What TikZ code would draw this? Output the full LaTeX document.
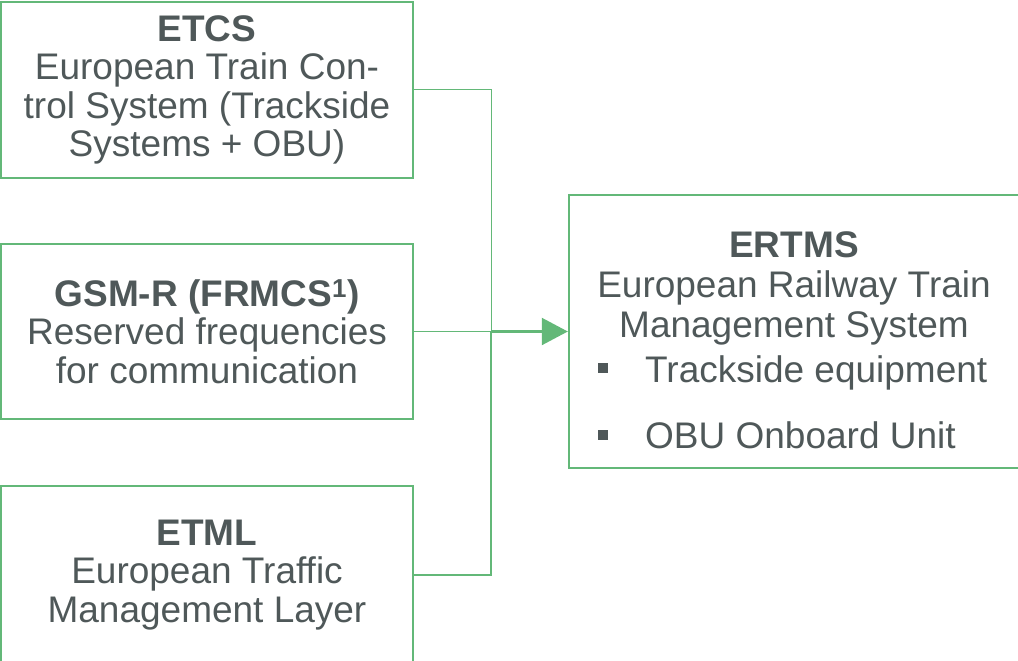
\documentclass[tikz,border=0pt]{standalone}
\usepackage{fontspec}
\setmainfont{Liberation Sans}
\usetikzlibrary{arrows.meta}
\definecolor{txt}{HTML}{4F5859}
\definecolor{grn}{HTML}{63B878}
\tikzset{
  box/.style={draw=grn, line width=2.4pt, inner sep=0pt, text=txt, align=center,
    font=\fontsize{37}{38.5}\selectfont, minimum width=412pt},
  lbl/.style={text=txt, inner sep=0pt, font=\fontsize{37}{38.5}\selectfont},
  conn/.style={draw=grn, line width=1.2pt},
  bul/.style={fill=txt, inner sep=0pt, minimum size=10.5pt}
}
\begin{document}
\begin{tikzpicture}[x=1pt,y=-1pt]
\useasboundingbox (0,0) rectangle (1018,661);
\node[box, minimum height=176pt] (etcs) at (207,90)
  {\textbf{ETCS}\\European Train Con-\\trol System (Trackside\\Systems + OBU)};
\node[box, minimum height=175pt] (gsm) at (207,331.5)
  {\textbf{GSM-R (FRMCS\textsuperscript{1})}\\Reserved frequencies\\for communication};
\node[box, line width=1.4pt, minimum height=178pt] (etml) at (207,575)
  {\textbf{ETML}\\European Traffic\\Management Layer};
\node[draw=grn, line width=2.4pt, minimum width=454pt, minimum height=273pt, inner sep=0pt] (ertms) at (796,331.5) {};
\node[lbl, anchor=base, font=\fontsize{37}{38.5}\selectfont\bfseries] (t1) at (794,257) {ERTMS};
\node[lbl, anchor=base] (t2) at (794,297) {European Railway Train};
\node[lbl, anchor=base] (t3) at (794,337) {Management System};
\node[bul] (b1) at (603,368) {};
\node[lbl, anchor=base west] (t4) at (645,382) {Trackside equipment};
\node[bul] (b2) at (603,435) {};
\node[lbl, anchor=base west] (t5) at (645,448) {OBU Onboard Unit};
\coordinate (j) at (491,331.5);
\draw[conn, line width=1pt] (etcs.east) -| (j);
\draw[conn, line width=1.6pt] (etml.east) -| (j);
\draw[conn, line width=1pt] (gsm.east) -- (j);
\draw[conn, line width=2.2pt, -{Triangle[length=26pt,width=27pt]}, fill=grn] (j) -- (ertms.west);
\end{tikzpicture}
\end{document}
